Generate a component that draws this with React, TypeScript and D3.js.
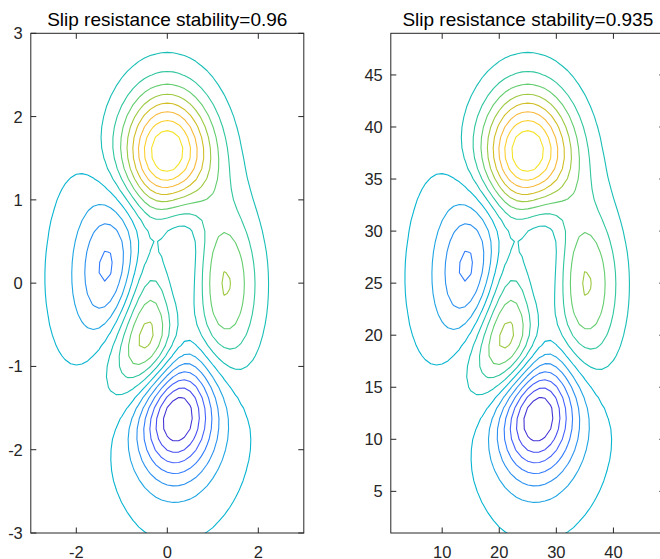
import React, { useMemo } from 'react';
import * as d3 from 'd3';

// --- Data ---
// surface: MATLAB peaks sampled on a 49x49 grid (same matrix in both panels)
const GRID_N = 49;
const gridX = d3.range(GRID_N).map(i => -3 + (i * 6) / (GRID_N - 1));
const gridY = gridX.slice();

function peaks(x: number, y: number) {
  return 3 * (1 - x) ** 2 * Math.exp(-(x ** 2) - (y + 1) ** 2)
    - 10 * (x / 5 - x ** 3 - y ** 5) * Math.exp(-(x ** 2) - y ** 2)
    - (1 / 3) * Math.exp(-((x + 1) ** 2) - y ** 2);
}

// contour levels (15 evenly spaced lines between min and max)
const contourLevels = [-5.632, -4.718, -3.805, -2.891, -1.977, -1.063, -0.149, 0.765, 1.678, 2.592, 3.506, 4.42, 5.334, 6.248, 7.161];

const titles = ['Slip resistance stability=0.96', 'Slip resistance stability=0.935'];
const leftXTicks = [-2, 0, 2];
const leftYTicks = [-3, -2, -1, 0, 1, 2, 3];
const rightXTicks = [10, 20, 30, 40];
const rightYTicks = [5, 10, 15, 20, 25, 30, 35, 40, 45];

// parula (64 rows)
const parula = [
  [0.2422, 0.1504, 0.6603], [0.2504, 0.165, 0.7076], [0.2578, 0.1818, 0.7511], [0.2647, 0.1978, 0.7952],
  [0.2706, 0.2147, 0.8364], [0.2751, 0.2342, 0.871], [0.2783, 0.2559, 0.8991], [0.2803, 0.2782, 0.9221],
  [0.2813, 0.3006, 0.9414], [0.281, 0.3228, 0.9579], [0.2795, 0.3447, 0.9717], [0.276, 0.3667, 0.9829],
  [0.2699, 0.3892, 0.9906], [0.2602, 0.4123, 0.9952], [0.244, 0.4358, 0.9988], [0.2206, 0.4603, 0.9973],
  [0.1963, 0.4847, 0.9892], [0.1834, 0.5074, 0.9798], [0.1786, 0.5289, 0.9682], [0.1764, 0.5499, 0.952],
  [0.1687, 0.5703, 0.9359], [0.154, 0.5902, 0.9218], [0.146, 0.6091, 0.9079], [0.138, 0.6276, 0.8973],
  [0.1248, 0.6459, 0.8883], [0.1113, 0.6635, 0.8763], [0.0952, 0.6798, 0.8598], [0.0689, 0.6948, 0.8394],
  [0.0297, 0.7082, 0.8163], [0.0036, 0.7203, 0.7917], [0.0067, 0.7312, 0.766], [0.0433, 0.7411, 0.7394],
  [0.0964, 0.75, 0.712], [0.1408, 0.7584, 0.6842], [0.1717, 0.767, 0.6554], [0.1938, 0.7758, 0.6251],
  [0.2161, 0.7843, 0.5923], [0.247, 0.7918, 0.5567], [0.2906, 0.7973, 0.5188], [0.3406, 0.8008, 0.4789],
  [0.3909, 0.8029, 0.4354], [0.4456, 0.8024, 0.3909], [0.5044, 0.7993, 0.348], [0.5616, 0.7942, 0.3045],
  [0.6174, 0.7876, 0.2612], [0.672, 0.7793, 0.2227], [0.7242, 0.7698, 0.191], [0.7738, 0.7598, 0.1646],
  [0.8203, 0.7498, 0.1535], [0.8634, 0.7406, 0.1596], [0.9035, 0.733, 0.1774], [0.9393, 0.7288, 0.21],
  [0.9728, 0.7298, 0.2394], [0.9956, 0.7434, 0.2371], [0.997, 0.7659, 0.2199], [0.9952, 0.7893, 0.2028],
  [0.9892, 0.8136, 0.1885], [0.9786, 0.8386, 0.1766], [0.9676, 0.8639, 0.1643], [0.961, 0.889, 0.1537],
  [0.9597, 0.9135, 0.1423], [0.9628, 0.9373, 0.1265], [0.9691, 0.9606, 0.1064], [0.9769, 0.9839, 0.0805],
];

const FONT = '"Liberation Sans", Arial, Helvetica, sans-serif';
const AXIS_COLOR = '#262626';
const TICK_LEN = 5.5;
const PLOT_TOP = 33.3;
const PLOT_BOTTOM = 533;

function Panel({ x0, x1, dataX, dataY, xTicks, yTicks, title, contours, colorOf, id }) {
  const gx = d3.scaleLinear().domain([0.5, GRID_N - 0.5]).range([x0, x1]);
  const gy = d3.scaleLinear().domain([0.5, GRID_N - 0.5]).range([PLOT_BOTTOM, PLOT_TOP]);
  const sx = d3.scaleLinear().domain(dataX).range([x0, x1]);
  const sy = d3.scaleLinear().domain(dataY).range([PLOT_BOTTOM, PLOT_TOP]);
  const path = d3.geoPath(d3.geoTransform({
    point(px, py) { this.stream.point(gx(px), gy(py)); }
  }));
  const w = x1 - x0, h = PLOT_BOTTOM - PLOT_TOP;
  return (
    <g>
      <defs>
        <clipPath id={id}><rect x={x0} y={PLOT_TOP} width={w} height={h} /></clipPath>
      </defs>
      <g clipPath={`url(#${id})`}>
        {contours.map((c, i) => (
          <path key={i} d={path(c) || ''} fill="none" stroke={colorOf(c.value)} strokeWidth={1.1} strokeLinejoin="round" />
        ))}
      </g>
      <rect x={x0} y={PLOT_TOP} width={w} height={h} fill="none" stroke={AXIS_COLOR} strokeWidth={1} />
      {xTicks.map(t => (
        <g key={'x' + t}>
          <line x1={sx(t)} x2={sx(t)} y1={PLOT_BOTTOM} y2={PLOT_BOTTOM - TICK_LEN} stroke={AXIS_COLOR} />
          <line x1={sx(t)} x2={sx(t)} y1={PLOT_TOP} y2={PLOT_TOP + TICK_LEN} stroke={AXIS_COLOR} />
          <text x={sx(t)} y={PLOT_BOTTOM + 24.5} textAnchor="middle" fontSize={16.5} fontFamily={FONT} fill={AXIS_COLOR}>{t}</text>
        </g>
      ))}
      {yTicks.map(t => (
        <g key={'y' + t}>
          <line x1={x0} x2={x0 + TICK_LEN} y1={sy(t)} y2={sy(t)} stroke={AXIS_COLOR} />
          <line x1={x1} x2={x1 - TICK_LEN} y1={sy(t)} y2={sy(t)} stroke={AXIS_COLOR} />
          <text x={x0 - 8} y={sy(t)} dy="0.36em" textAnchor="end" fontSize={16.5} fontFamily={FONT} fill={AXIS_COLOR}>{t}</text>
        </g>
      ))}
      <text x={(x0 + x1) / 2} y={26} textAnchor="middle" fontSize={19} fontFamily={FONT} fill="#000">{title}</text>
    </g>
  );
}

export default function App() {
  const { contours, colorOf } = useMemo(() => {
    const values = new Array(GRID_N * GRID_N);
    for (let j = 0; j < GRID_N; j++) {
      for (let i = 0; i < GRID_N; i++) values[i + j * GRID_N] = peaks(gridX[i], gridY[j]);
    }
    const [zmin, zmax] = d3.extent(values) as [number, number];
    const contours = d3.contours().size([GRID_N, GRID_N]).thresholds(contourLevels)(values);
    const colorOf = (v: number) => {
      const t = (v - zmin) / (zmax - zmin);
      const c = parula[Math.max(0, Math.min(63, Math.floor(t * 64)))];
      return d3.rgb(c[0] * 255, c[1] * 255, c[2] * 255).formatHex();
    };
    return { contours, colorOf };
  }, []);

  return (
    <svg width={660} height={559} style={{ position: 'fixed', left: 0, top: 0, background: '#fff' }}>
      <rect width={660} height={559} fill="#fff" />
      <Panel id="clipL" x0={30.8} x1={303.8} dataX={[-3, 3]} dataY={[-3, 3]} xTicks={leftXTicks} yTicks={leftYTicks}
        title={titles[0]} contours={contours} colorOf={colorOf} />
      <Panel id="clipR" x0={390.8} x1={664.8} dataX={[1, 49]} dataY={[1, 49]} xTicks={rightXTicks} yTicks={rightYTicks}
        title={titles[1]} contours={contours} colorOf={colorOf} />
    </svg>
  );
}
